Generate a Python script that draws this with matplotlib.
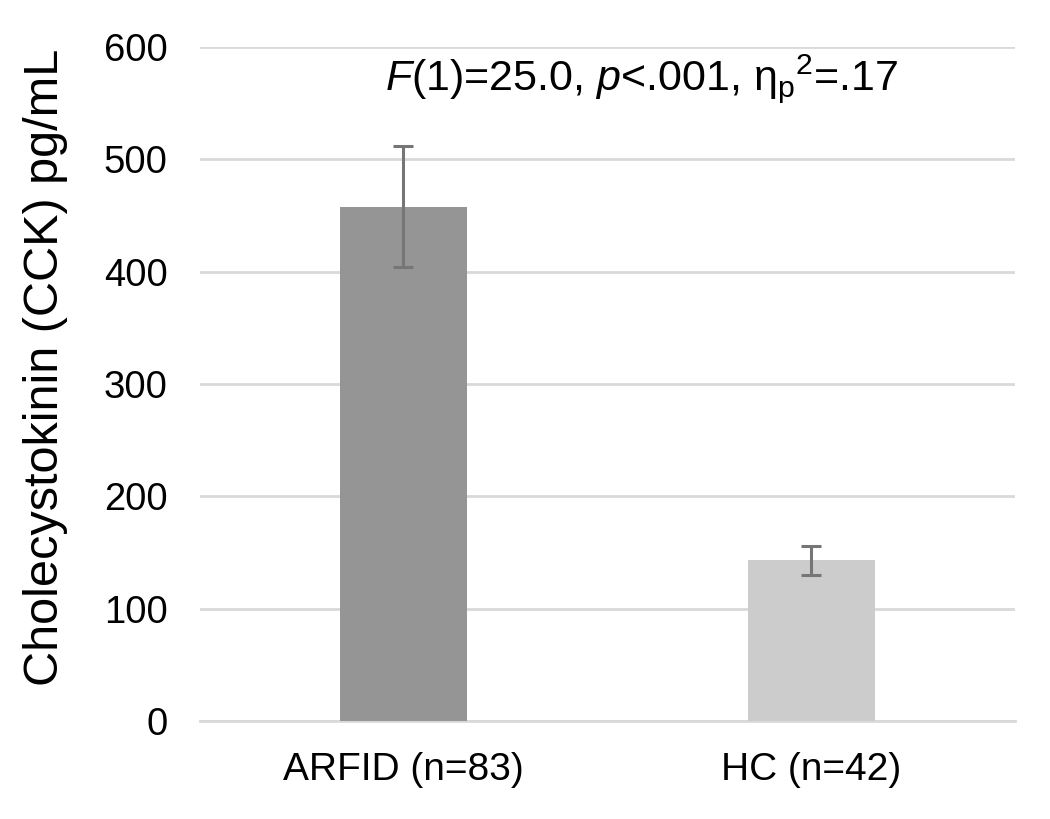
import matplotlib
matplotlib.use("Agg")
import matplotlib.pyplot as plt

categories = ["ARFID (n=83)", "HC (n=42)"]
means = [458, 143]
errors = [54, 13]
bar_colors = ["#959595", "#cccccc"]
yticks = [0, 100, 200, 300, 400, 500, 600]
annotation = r"$\it{F}$(1)=25.0, $\it{p}$<.001, η$_\mathrm{p}$$^\mathrm{2}$=.17"

plt.rcParams['font.family'] = ['Liberation Sans', 'DejaVu Sans']
plt.rcParams['mathtext.fontset'] = 'custom'
plt.rcParams['mathtext.rm'] = 'Liberation Sans'
plt.rcParams['mathtext.it'] = 'Liberation Sans:italic'
plt.rcParams['mathtext.bf'] = 'Liberation Sans:bold'

fig = plt.figure(figsize=(10.5, 8.19), dpi=100)
ax = fig.add_axes([0.19, 0.1197, 0.777, 0.8229])

x = list(range(len(categories)))
ax.bar(x, means, width=0.31, color=bar_colors, zorder=3)
ax.errorbar(x, means, yerr=errors, fmt='none', ecolor='#767676', elinewidth=2.2,
            capsize=7.5, capthick=2.2, zorder=4)

ax.set_xlim(-0.5, 1.5)
ax.set_ylim(0, 600)
ax.set_yticks(yticks)
ax.set_yticklabels([str(t) for t in yticks], fontsize=27.5)
ax.set_xticks(x)
ax.set_xticklabels(categories, fontsize=28)
ax.tick_params(axis='both', length=0)
ax.tick_params(axis='y', pad=23)
ax.tick_params(axis='x', pad=22)
ax.grid(axis='y', color='#d9d9d9', linewidth=2, zorder=0)
for s in ['top', 'right', 'left']:
    ax.spines[s].set_visible(False)
ax.spines['bottom'].set_color('#d9d9d9')
ax.spines['bottom'].set_linewidth(2)

fig.text(46 / 1050, 1 - 367.5 / 819, "Cholecystokinin (CCK) pg/mL", fontsize=35,
         rotation=90, ha='center', va='center')

ax.text(0.583, 561.6, annotation, fontsize=31, ha='center', va='baseline')

fig.savefig("out.png", dpi=100)
